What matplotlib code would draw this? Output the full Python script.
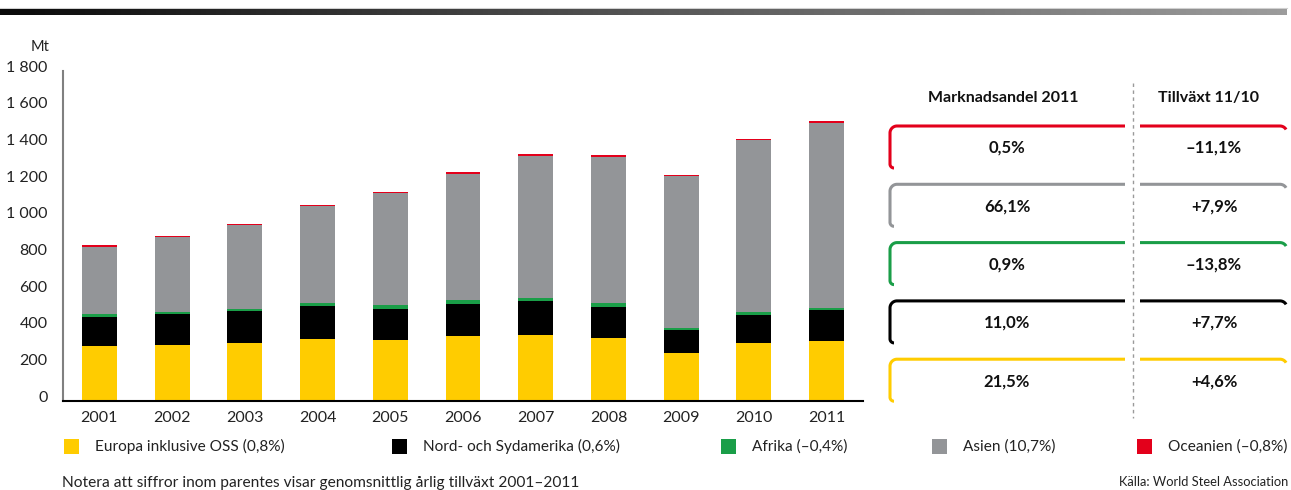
import numpy as np
import matplotlib.pyplot as plt
from matplotlib.colors import LinearSegmentedColormap
from matplotlib.patches import Rectangle
from matplotlib.transforms import ScaledTranslation

plt.rcParams['font.family'] = ['Lato', 'DejaVu Sans']

# Världens stålproduktion per region, Mt
years = ['2001', '2002', '2003', '2004', '2005', '2006', '2007', '2008', '2009', '2010', '2011']
europa = [298, 304, 315, 338, 333, 355, 360, 344, 262, 314, 328]
amerika = [158, 169, 174, 179, 168, 174, 186, 169, 125, 156, 168]
afrika = [17, 11, 11, 16, 21, 22, 16, 22, 11, 16, 14]
asien = [366, 412, 459, 531, 613, 687, 775, 796, 830, 935, 1009]
oceanien = [11, 6, 5, 5, 5, 11, 11, 11, 7, 9, 8]

labels = ['Europa inklusive OSS (0,8%)', 'Nord- och Sydamerika (0,6%)',
          'Afrika (–0,4%)', 'Asien (10,7%)', 'Oceanien (–0,8%)']
colors = ['#FFCC00', '#000000', '#1A9E48', '#939598', '#E3001B']

# tabell: uppifrån och ned (Oceanien, Asien, Afrika, Amerika, Europa)
andel = ['0,5%', '66,1%', '0,9%', '11,0%', '21,5%']
tillvaxt = ['–11,1%', '+7,9%', '–13,8%', '+7,7%', '+4,6%']
tab_colors = ['#E3001B', '#939598', '#1A9E48', '#000000', '#FFCC00']

W, H = 1291, 490
fig = plt.figure(figsize=(W / 100, H / 100), dpi=100)

# staplarna
ax = fig.add_axes([63 / W, 1 - 401 / H, 800 / W, 330 / H])
x = np.arange(len(years))
bottom = np.zeros(len(years))
for serie, c in zip([europa, amerika, afrika, asien, oceanien], colors):
    ax.bar(x, serie, width=0.48, bottom=bottom, color=c, linewidth=0)
    bottom += np.array(serie)

ax.set_xlim(-0.5, 10.5)
ax.set_ylim(0, 1800)
ax.set_yticks(range(0, 1801, 200))
ax.set_yticklabels([f'{v:,}'.replace(',', ' ') for v in range(0, 1801, 200)])
ax.set_xticks(x)
ax.set_xticklabels(years)
ax.tick_params(axis='both', length=0, labelsize=11.5, colors='#222222')
ax.tick_params(axis='y', pad=11)
ax.tick_params(axis='x', pad=7)
for lab in ax.get_yticklabels():
    lab.set_transform(lab.get_transform() + ScaledTranslation(0, 0.05, fig.dpi_scale_trans))
for s in ['top', 'right']:
    ax.spines[s].set_visible(False)
ax.spines['left'].set_color('#808080')
ax.spines['left'].set_linewidth(1.5)
ax.spines['bottom'].set_color('#000000')
ax.spines['bottom'].set_linewidth(1.5)

# overlay i pixelkoordinater for tabell, legend och texter
ov = fig.add_axes([0, 0, 1, 1], zorder=-1)
ov.set_xlim(0, W)
ov.set_ylim(H, 0)
ov.axis('off')

ov.text(40, 47, 'Mt', ha='center', va='center', fontsize=10.5, color='#222222')

# gradientlinje överst
grad = fig.add_axes([0, 1 - 15 / H, 1287 / W, 6 / H])
cmap = LinearSegmentedColormap.from_list('g', ['#0a0a0a', '#555555', '#9c9c9c'])
grad.imshow(np.linspace(0, 1, 256).reshape(1, -1), aspect='auto', cmap=cmap)
grad.axis('off')
ov.plot([0, 1287], [8.5, 8.5], color='#d0d0d0', lw=0.8)


def arc(cx, cy, r, t0, t1):
    t = np.radians(np.linspace(t0, t1, 20))
    return list(cx + r * np.cos(t)), list(cy + r * np.sin(t))


# tabellen
ov.text(1003, 98, 'Marknadsandel 2011', ha='center', va='center', fontsize=11.5,
        fontweight='bold', color='#111111')
ov.text(1209, 98, 'Tillväxt 11/10', ha='center', va='center', fontsize=11.5,
        fontweight='bold', color='#111111')
ov.plot([1133, 1133], [83, 418], color='#9a9a9a', lw=1, dashes=(2.5, 2.5))

x0, x1, x2, x3 = 890, 1125, 1140, 1287
r, rb, h = 7, 4, 42
for i, (a, g, c) in enumerate(zip(andel, tillvaxt, tab_colors)):
    y0 = 126 + i * 58.3
    bx, by = arc(x0 + rb, y0 + h - rb, rb, 90, 180)
    tx, ty = arc(x0 + r, y0 + r, r, 180, 270)
    ov.plot(bx + tx + [x1], by + ty + [y0], color=c, lw=2.2, solid_capstyle='butt')
    rx, ry = arc(x3 - r, y0 + r, r, 270, 330)
    ov.plot([x2] + rx, [y0] + ry, color=c, lw=2.2, solid_capstyle='butt')
    ov.text(1007, y0 + 22, a, ha='center', va='center', fontsize=12,
            fontweight='bold', color='#111111')
    ov.text(1214, y0 + 22, g, ha='center', va='center', fontsize=12,
            fontweight='bold', color='#111111')

# legend
sq_x = [64, 392, 721, 932, 1137]
for sx, lab, c in zip(sq_x, labels, colors):
    ov.add_patch(Rectangle((sx, 439), 15, 15, color=c, lw=0))
    ov.text(sx + 31, 446.5, lab, ha='left', va='center', fontsize=11.1, color='#222222')

ov.text(62, 483, 'Notera att siffror inom parentes visar genomsnittlig årlig tillväxt 2001–2011',
        ha='left', va='center', fontsize=11.2, color='#222222')
ov.text(1288, 482, 'Källa: World Steel Association', ha='right', va='center',
        fontsize=9.3, color='#222222')

fig.savefig('out.png', dpi=100)
